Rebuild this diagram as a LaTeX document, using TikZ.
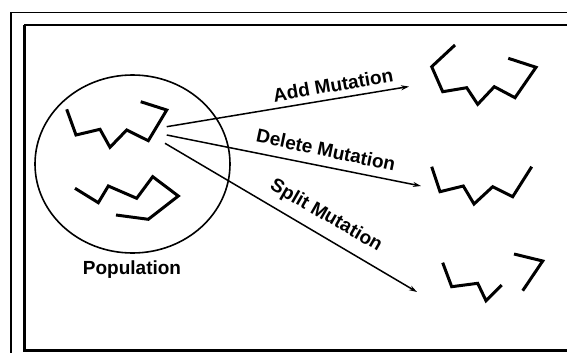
\documentclass[tikz,border=0pt]{standalone}
\usepackage{fontspec}
\setmainfont{Liberation Sans}
\usetikzlibrary{arrows.meta}
\begin{document}
\begin{tikzpicture}[x=1pt,y=-1pt,
  chain/.style={line width=3pt,line join=miter,line cap=butt},
  arr/.style={line width=1.5pt,-{Stealth[length=8pt,width=5pt]}},
  lbl/.style={font=\bfseries\fontsize{19}{21}\selectfont,inner sep=0pt},
  frm/.style={draw,line width=1.5pt}]
\useasboundingbox (0,0) rectangle (567,353);
\begin{scope}
\clip (0,0) rectangle (567,353);
\draw[line width=1.5pt] (11,360) -- (11,12.5) -- (580,12.5);
\draw[line width=3pt] (24,25) -- (24,350) -- (580,350);
\draw[line width=1.5pt] (24,25) -- (580,25);
\end{scope}
% population
\draw[line width=1.6pt] (132.5,164) ellipse [x radius=97.5, y radius=89];
\node[lbl] (pop) at (132,270) {Population};
\draw[chain] (66.7,109.3) -- (76,135) -- (100,129.3) -- (110,147.3) -- (126.7,130) -- (148.3,140.7) -- (166.7,110) -- (140.7,101.7);
\draw[chain] (75,188.3) -- (98.3,202.7) -- (108.3,186) -- (136.7,198.3) -- (152.7,176.7) -- (178.3,196) -- (148.3,219.3) -- (116,215);
% arrows
\coordinate (s1) at (166.7,126.7);
\coordinate (e1) at (409,86.5);
\coordinate (s2) at (166.7,135);
\coordinate (e2) at (421,186);
\coordinate (s3) at (165,143.3);
\coordinate (e3) at (417,292);
\draw[arr] (s1) -- (e1);
\draw[arr] (s2) -- (e2);
\draw[arr] (s3) -- (e3);
\node[lbl,rotate=10] (l1) at (333,85) {Add Mutation};
\node[lbl,rotate=-12] (l2) at (326,150) {Delete Mutation};
\node[lbl,rotate=-30] (l3) at (326,216) {Split Mutation};
% results
\draw[chain] (455,45) -- (431.7,66.7) -- (442.7,91.7) -- (466.7,87.7) -- (477.7,104.3) -- (494.3,86.7) -- (515,97.7) -- (536,67.3) -- (508.3,58.3);
\draw[chain] (431.7,166.7) -- (440,191.7) -- (463.3,186) -- (474,204) -- (492.7,186.7) -- (512.7,196.7) -- (531.7,166.7);
\draw[chain] (442.7,262.7) -- (451.7,286.7) -- (477.7,283.3) -- (486,300.7) -- (501.7,285);
\draw[chain] (514,254) -- (542.7,261) -- (522.7,290.7);
\end{tikzpicture}
\end{document}
